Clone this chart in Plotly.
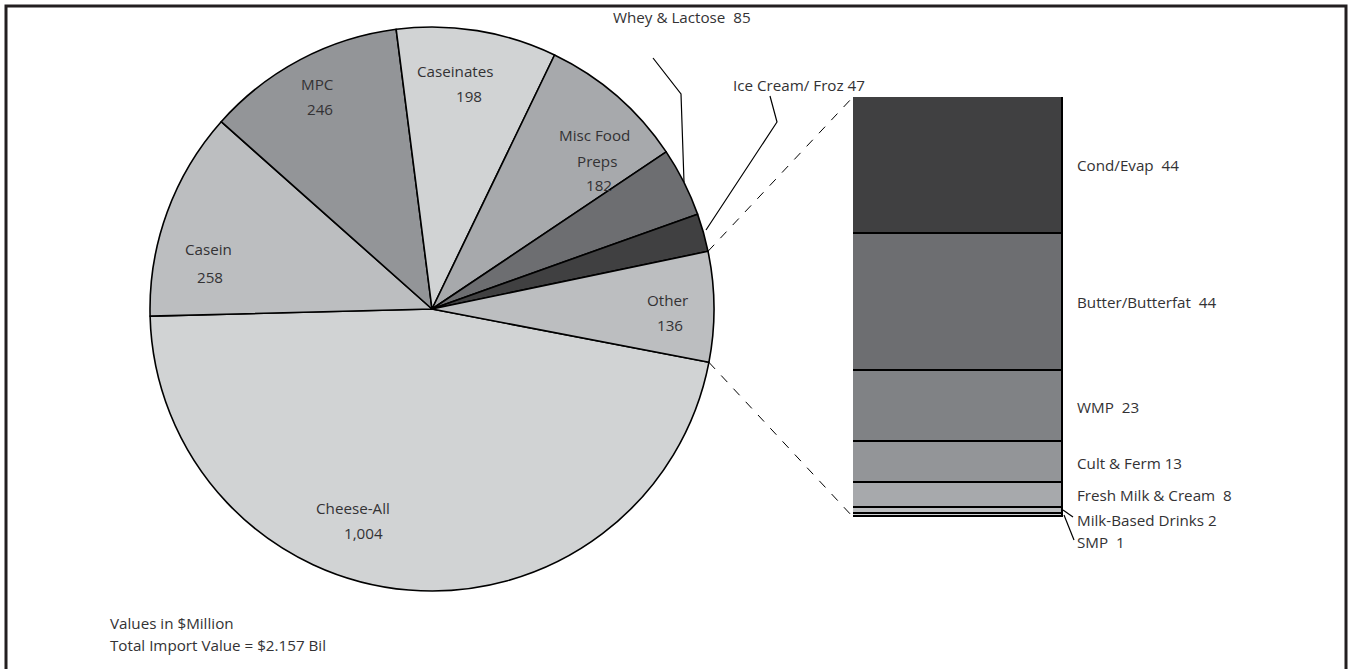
import math
import plotly.graph_objects as go

W, H = 1349, 669

# Pie: dairy import categories (values in $Million), clockwise from the "Other"/"Cheese" edge
pie_labels = ["Cheese-All", "Casein", "MPC", "Caseinates", "Misc Food Preps",
              "Whey & Lactose", "Ice Cream/ Froz", "Other"]
pie_values = [1004, 258, 246, 198, 182, 85, 47, 136]
pie_colors = ["#d1d3d4", "#bcbec0", "#939598", "#d1d3d4", "#a7a9ac",
              "#6d6e71", "#404041", "#bcbec0"]

# Breakdown of "Other", bottom to top in the stacked bar
bar_labels = ["SMP", "Milk-Based Drinks", "Fresh Milk & Cream", "Cult & Ferm",
              "WMP", "Butter/Butterfat", "Cond/Evap"]
bar_values = [1, 2, 8, 13, 23, 44, 44]
bar_colors = ["#d1d3d4", "#bcbec0", "#a7a9ac", "#939598", "#808285",
              "#6d6e71", "#404041"]

notes = ["Values in $Million", "Total Import Value = $2.157 Bil"]

TEXT = "#333234"
FONT = "Open Sans"
FS = 15.2

# geometry (pixels)
CX, CY, R = 432, 309, 282
BAR_L, BAR_R, BAR_T, BAR_B = 853, 1063, 97, 517
ROT = 100.9  # start angle of first slice, degrees clockwise from 12 o'clock


def px(x):
    return x / W


def py(y):
    return 1 - y / H


fig = go.Figure()

fig.add_trace(go.Pie(
    labels=pie_labels, values=pie_values, sort=False, direction="clockwise",
    rotation=ROT, textinfo="none", hoverinfo="skip", showlegend=False,
    marker=dict(colors=pie_colors, line=dict(color="#000000", width=1.6)),
    domain=dict(x=[px(CX - R), px(CX + R)], y=[py(CY + R), py(CY - R)]),
))

for lab, val, col in zip(bar_labels, bar_values, bar_colors):
    fig.add_trace(go.Bar(
        x=[0], y=[val], name=lab, width=1, showlegend=False, hoverinfo="skip",
        marker=dict(color=col, line=dict(color="#000000", width=1.6)),
    ))

total_bar = sum(bar_values)
fig.update_layout(
    width=W, height=H, margin=dict(l=0, r=0, t=0, b=0),
    paper_bgcolor="white", plot_bgcolor="rgba(0,0,0,0)",
    barmode="stack", bargap=0,
    xaxis=dict(domain=[px(BAR_L), px(BAR_R)], range=[-0.5, 0.5], visible=False,
               fixedrange=True),
    yaxis=dict(domain=[py(BAR_B), py(BAR_T)], range=[0, total_bar], visible=False,
               fixedrange=True),
    font=dict(family=FONT, size=FS, color=TEXT),
)

ann = []


def text_at(x, y, s, anchor="center"):
    ann.append(dict(x=px(x), y=py(y), xref="paper", yref="paper", text=s,
                    showarrow=False, xanchor=anchor, yanchor="middle",
                    font=dict(family=FONT, size=FS, color=TEXT)))


# labels inside the pie
idx = {n: i for i, n in enumerate(pie_labels)}
text_at(353, 508, pie_labels[idx["Cheese-All"]])
text_at(363, 533, f"{pie_values[idx['Cheese-All']]:,}")
text_at(208, 249, pie_labels[idx["Casein"]])
text_at(210, 277, f"{pie_values[idx['Casein']]:,}")
text_at(317, 84, pie_labels[idx["MPC"]])
text_at(320, 109, f"{pie_values[idx['MPC']]:,}")
text_at(455, 71, pie_labels[idx["Caseinates"]])
text_at(469, 96, f"{pie_values[idx['Caseinates']]:,}")
misc = pie_labels[idx["Misc Food Preps"]].rsplit(" ", 1)
text_at(594, 135, misc[0])
text_at(597, 161, misc[1])
text_at(599, 185, f"{pie_values[idx['Misc Food Preps']]:,}")
text_at(667, 300, pie_labels[idx["Other"]])
text_at(670, 325, f"{pie_values[idx['Other']]:,}")

# labels outside the pie with leader lines
text_at(611, 17, f"{pie_labels[idx['Whey & Lactose']]}  {pie_values[idx['Whey & Lactose']]}", "left")
text_at(731, 85, f"{pie_labels[idx['Ice Cream/ Froz']]} {pie_values[idx['Ice Cream/ Froz']]}", "left")

# labels beside the bar segments
bar_text = {"Cond/Evap": "  ", "Butter/Butterfat": "  ", "WMP": "  ", "Cult & Ferm": " ",
            "Fresh Milk & Cream": "  ", "Milk-Based Drinks": " ", "SMP": "  "}
scale = (BAR_B - BAR_T) / total_bar
cum = 0
for lab, val in zip(bar_labels, bar_values):
    mid = BAR_B - (cum + val / 2) * scale
    cum += val
    if lab == "Milk-Based Drinks":
        mid = 520
    elif lab == "SMP":
        mid = 542
    text_at(1075, mid, f"{lab}{bar_text[lab]}{val}", "left")

text_at(108, 623, notes[0], "left")
text_at(108, 645, notes[1], "left")

fig.update_layout(annotations=ann)

shapes = []


def path(points, dash="solid", width=1):
    d = "M " + " L ".join(f"{px(x)},{py(y)}" for x, y in points)
    shapes.append(dict(type="path", path=d, xref="paper", yref="paper",
                       line=dict(color="#000000", width=width, dash=dash)))


# edges of the "Other" slice, from cumulative values
tot = sum(pie_values)
start_other = ROT - pie_values[idx["Other"]] / tot * 360
end_other = ROT


def edge(deg):
    a = math.radians(deg)
    return CX + R * math.sin(a), CY - R * math.cos(a)


path([edge(start_other), (BAR_L, BAR_T)], dash="dash", width=1)
path([edge(end_other), (BAR_L, BAR_B)], dash="dash", width=1)

# leader lines
path([(653, 58), (681, 94), (684, 182)], width=1.2)
path([(770, 96), (777, 122), (706, 230)], width=1.2)
path([(1063, 510), (1073, 517)], width=1.2)
path([(1064, 515), (1074, 540)], width=1.2)

# frame
shapes.append(dict(type="rect", xref="paper", yref="paper",
                   x0=px(6), x1=px(1346), y0=py(700), y1=py(6),
                   line=dict(color="#231f20", width=3)))

fig.update_layout(shapes=shapes)

fig.write_html("out.html")
